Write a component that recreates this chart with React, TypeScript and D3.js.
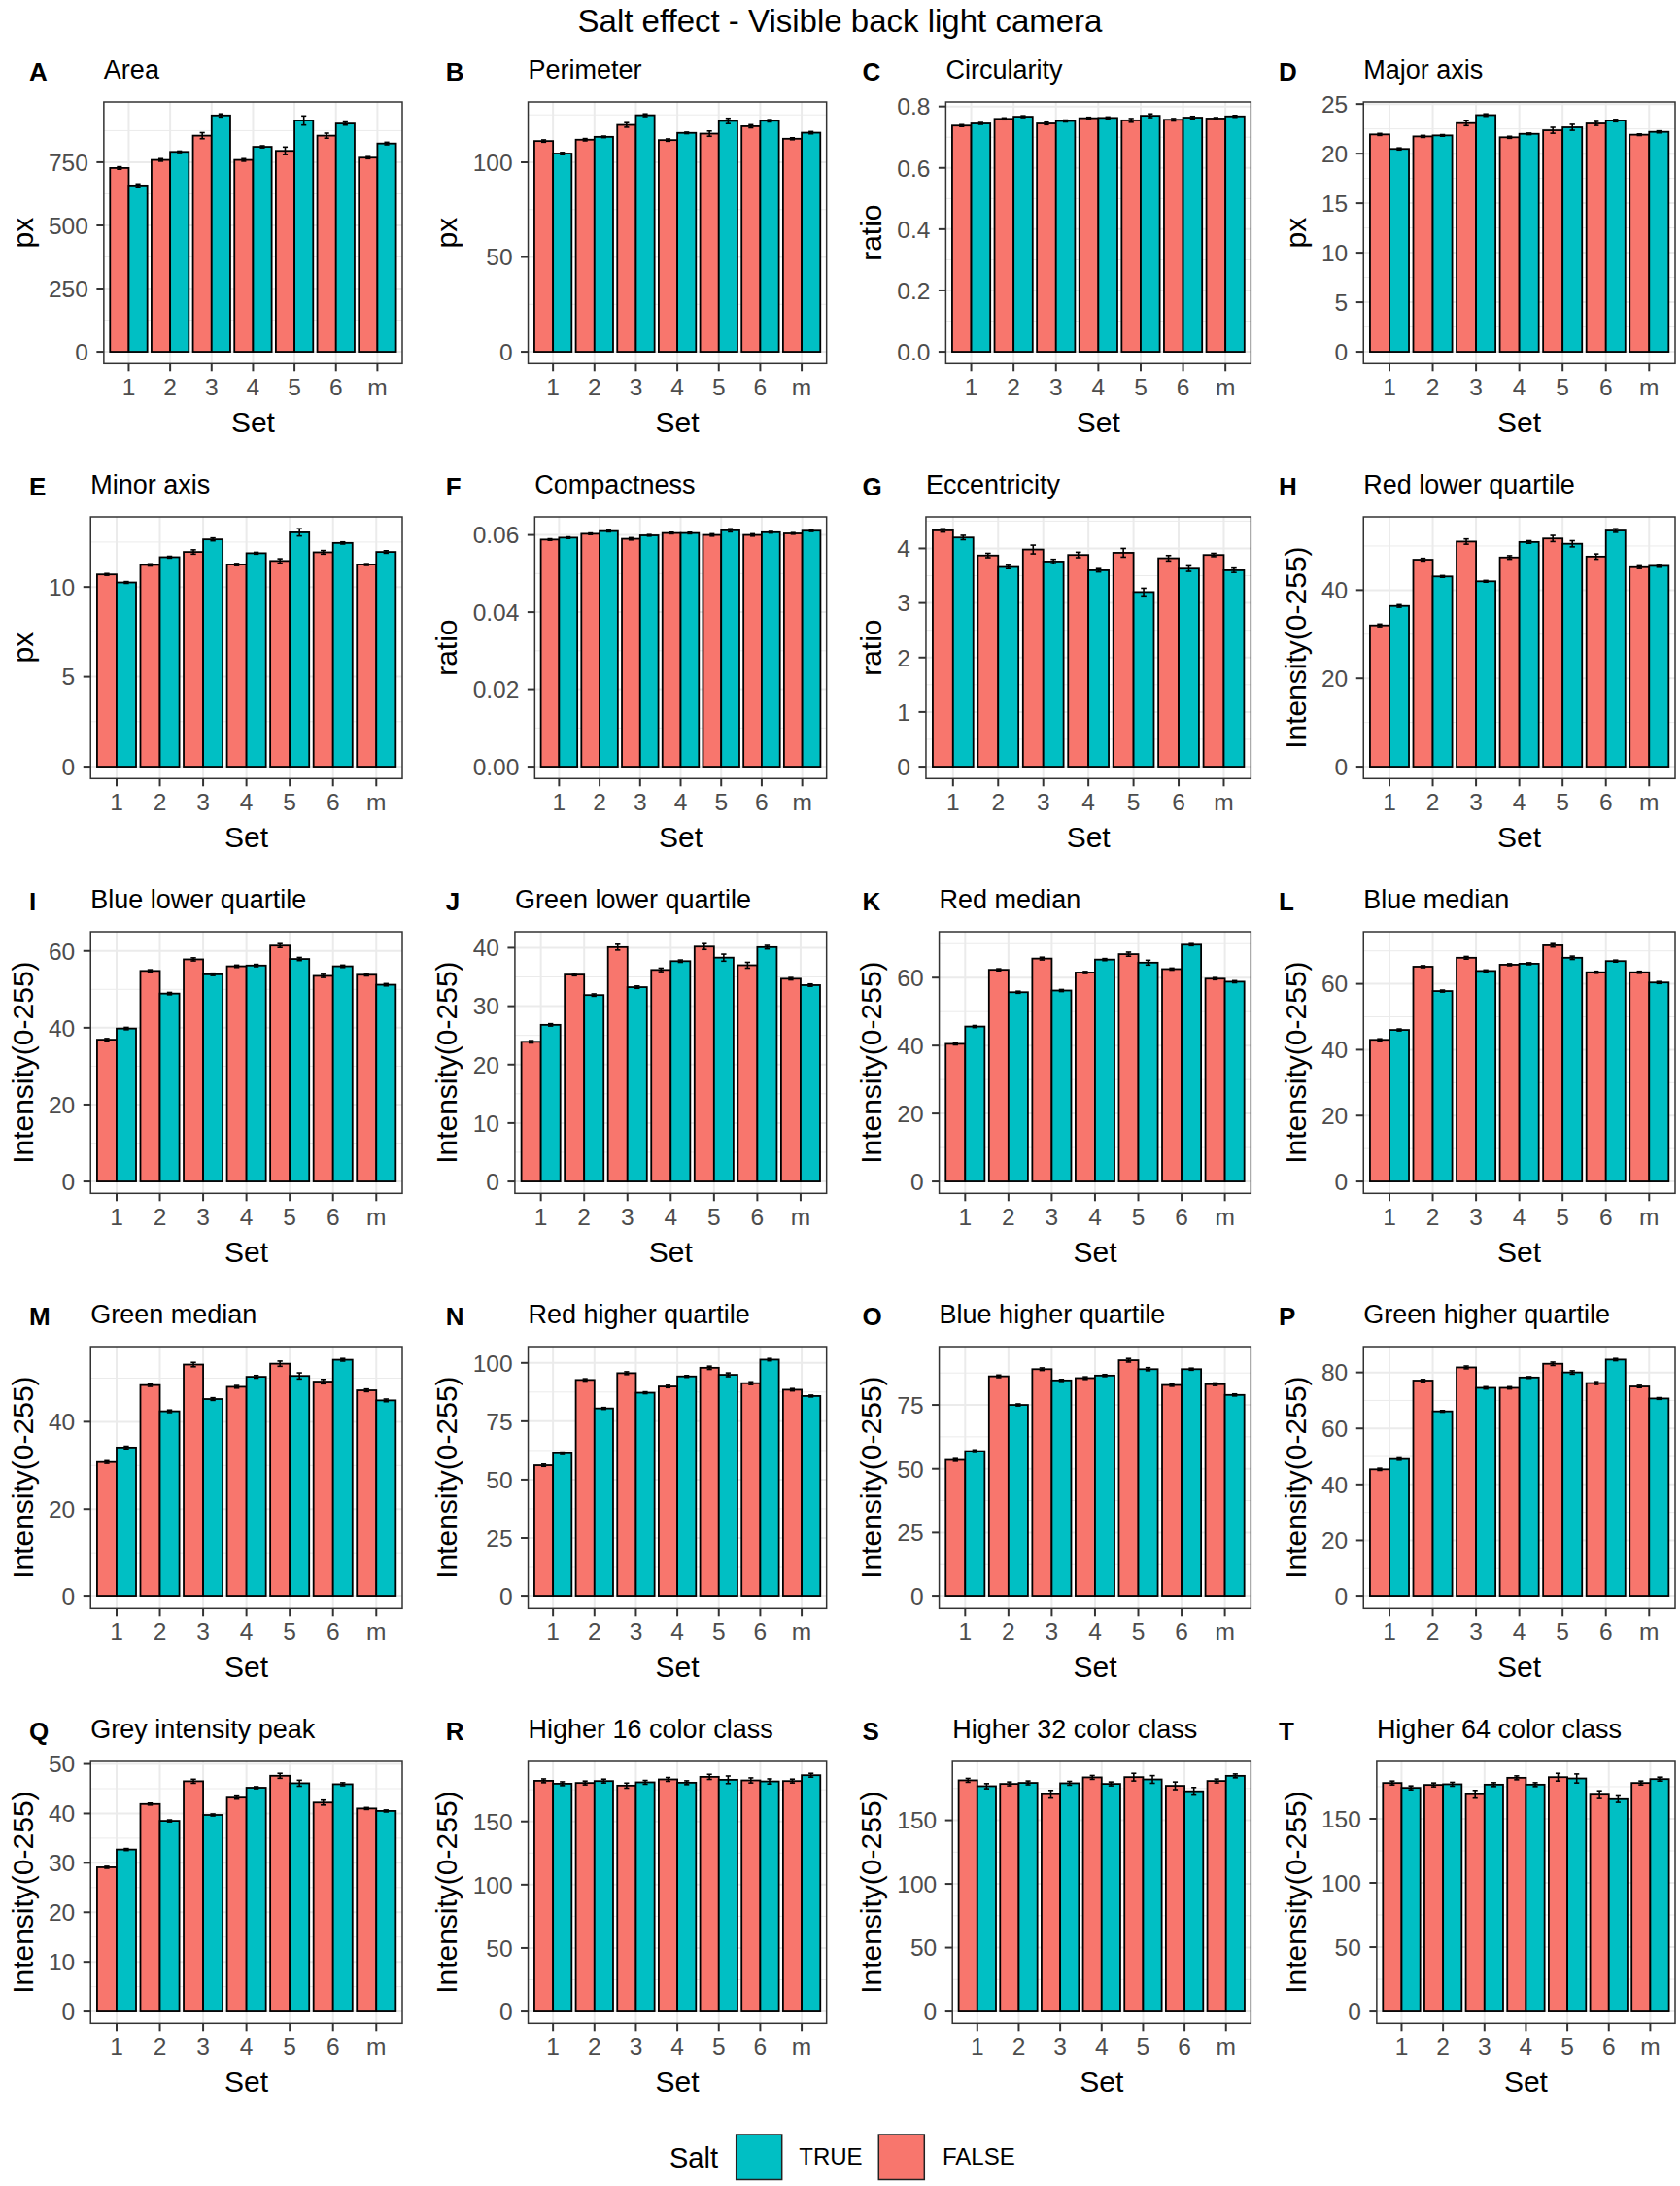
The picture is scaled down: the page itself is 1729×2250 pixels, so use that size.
import React from "react";
import * as d3 from "d3";

const chartTitle = "Salt effect - Visible back light camera";
const sets = ["1", "2", "3", "4", "5", "6", "m"];
const tags = ["A","B","C","D","E","F","G","H","I","J","K","L","M","N","O","P","Q","R","S","T"];
const titles = [
  "Area", "Perimeter", "Circularity", "Major axis",
  "Minor axis", "Compactness", "Eccentricity", "Red lower quartile",
  "Blue lower quartile", "Green lower quartile", "Red median", "Blue median",
  "Green median", "Red higher quartile", "Blue higher quartile", "Green higher quartile",
  "Grey intensity peak", "Higher 16 color class", "Higher 32 color class", "Higher 64 color class",
];
const INT = "Intensity(0-255)";
const yTitles = ["px", "px", "ratio", "px", "px", "ratio", "ratio", INT, INT, INT, INT, INT, INT, INT, INT, INT, INT, INT, INT, INT];
const yTickLabels = [
  ["0", "250", "500", "750"],
  ["0", "50", "100"],
  ["0.0", "0.2", "0.4", "0.6", "0.8"],
  ["0", "5", "10", "15", "20", "25"],
  ["0", "5", "10"],
  ["0.00", "0.02", "0.04", "0.06"],
  ["0", "1", "2", "3", "4"],
  ["0", "20", "40"],
  ["0", "20", "40", "60"],
  ["0", "10", "20", "30", "40"],
  ["0", "20", "40", "60"],
  ["0", "20", "40", "60"],
  ["0", "20", "40"],
  ["0", "25", "50", "75", "100"],
  ["0", "25", "50", "75"],
  ["0", "20", "40", "60", "80"],
  ["0", "10", "20", "30", "40", "50"],
  ["0", "50", "100", "150"],
  ["0", "50", "100", "150"],
  ["0", "50", "100", "150"],
];

// Salt = FALSE means
const falseMean = [
  [727, 759, 855, 759, 795, 855, 768],
  [111.2, 111.9, 119.7, 111.7, 115.1, 119.0, 112.4],
  [0.738, 0.760, 0.745, 0.762, 0.755, 0.757, 0.761],
  [21.94, 21.74, 23.08, 21.65, 22.36, 23.05, 21.91],
  [10.70, 11.23, 11.95, 11.25, 11.45, 11.93, 11.25],
  [0.0588, 0.0603, 0.0590, 0.0605, 0.0600, 0.0600, 0.0604],
  [4.33, 3.87, 3.98, 3.88, 3.92, 3.82, 3.88],
  [32.0, 46.9, 51.0, 47.4, 51.7, 47.6, 45.2],
  [36.9, 54.8, 57.8, 56.0, 61.4, 53.5, 53.8],
  [23.9, 35.4, 40.1, 36.2, 40.2, 37.0, 34.7],
  [40.5, 62.3, 65.6, 61.5, 66.9, 62.5, 59.7],
  [43.0, 65.2, 67.9, 65.8, 71.7, 63.5, 63.5],
  [30.8, 48.4, 53.1, 48.0, 53.3, 49.2, 47.2],
  [56.2, 92.7, 95.6, 89.9, 97.9, 91.3, 88.5],
  [53.5, 86.2, 89.0, 85.5, 92.5, 82.8, 83.1],
  [45.4, 77.1, 81.8, 74.5, 83.1, 76.2, 75.0],
  [29.1, 41.9, 46.5, 43.2, 47.6, 42.2, 41.0],
  [182.1, 180.4, 178.3, 183.2, 185.2, 182.4, 181.9],
  [181.4, 178.6, 170.5, 183.7, 183.9, 177.1, 180.9],
  [177.9, 176.4, 169.1, 181.9, 182.4, 168.8, 177.9],
];
// Salt = TRUE means
const trueMean = [
  [658, 791, 935, 811, 915, 903, 824],
  [104.6, 113.4, 124.8, 115.5, 121.8, 121.9, 115.6],
  [0.745, 0.767, 0.753, 0.763, 0.770, 0.764, 0.768],
  [20.48, 21.84, 23.89, 22.0, 22.66, 23.34, 22.2],
  [10.25, 11.66, 12.65, 11.88, 13.04, 12.45, 11.95],
  [0.0593, 0.0610, 0.0599, 0.0605, 0.0612, 0.0607, 0.0611],
  [4.20, 3.66, 3.76, 3.60, 3.20, 3.63, 3.60],
  [36.4, 43.1, 42.0, 50.9, 50.5, 53.5, 45.5],
  [39.8, 48.9, 53.9, 56.2, 57.9, 56.0, 51.2],
  [26.8, 31.9, 33.25, 37.7, 38.3, 40.1, 33.6],
  [45.6, 55.7, 56.2, 65.3, 64.4, 69.7, 58.8],
  [46.0, 57.8, 63.9, 66.1, 67.9, 66.9, 60.4],
  [34.1, 42.4, 45.2, 50.3, 50.5, 54.2, 44.9],
  [61.3, 80.5, 87.2, 94.2, 94.9, 101.4, 85.8],
  [56.9, 75.0, 84.6, 86.5, 89.0, 89.0, 78.9],
  [49.1, 66.1, 74.5, 78.2, 80.0, 84.6, 70.7],
  [32.7, 38.5, 39.7, 45.2, 46.1, 45.9, 40.5],
  [179.8, 181.9, 180.9, 180.6, 182.9, 181.6, 186.5],
  [176.8, 179.4, 179.1, 178.6, 182.1, 172.8, 184.9],
  [174.1, 176.9, 176.6, 176.6, 181.4, 165.3, 180.9],
];
// standard errors
const falseErr = [
  [5, 5, 12, 5, 15, 10, 4],
  [0.6, 0.6, 1.2, 0.6, 1.4, 0.8, 0.5],
  [0.003, 0.003, 0.004, 0.003, 0.006, 0.004, 0.003],
  [0.1, 0.1, 0.25, 0.1, 0.3, 0.2, 0.08],
  [0.05, 0.06, 0.12, 0.06, 0.12, 0.1, 0.05],
  [0.0002, 0.0002, 0.0003, 0.0002, 0.0003, 0.0003, 0.0002],
  [0.03, 0.04, 0.08, 0.05, 0.08, 0.05, 0.03],
  [0.3, 0.3, 0.6, 0.4, 0.7, 0.6, 0.3],
  [0.3, 0.3, 0.4, 0.3, 0.5, 0.4, 0.3],
  [0.2, 0.2, 0.5, 0.3, 0.5, 0.5, 0.2],
  [0.3, 0.3, 0.4, 0.3, 0.6, 0.3, 0.3],
  [0.3, 0.3, 0.4, 0.3, 0.5, 0.3, 0.3],
  [0.3, 0.3, 0.5, 0.3, 0.6, 0.5, 0.3],
  [0.5, 0.5, 0.6, 0.5, 0.7, 0.6, 0.5],
  [0.5, 0.5, 0.5, 0.5, 0.7, 0.5, 0.5],
  [0.4, 0.4, 0.5, 0.4, 0.6, 0.5, 0.4],
  [0.2, 0.2, 0.4, 0.3, 0.5, 0.5, 0.2],
  [1.5, 1.5, 2, 1.5, 2, 2, 1.5],
  [1.5, 1.5, 3, 1.5, 3, 3, 1.5],
  [1.5, 1.5, 3, 1.5, 3, 3, 1.5],
];
const trueErr = [
  [6, 3, 6, 4, 18, 6, 5],
  [0.6, 0.4, 0.7, 0.4, 1.4, 0.6, 0.6],
  [0.003, 0.003, 0.003, 0.003, 0.006, 0.004, 0.003],
  [0.1, 0.08, 0.12, 0.08, 0.3, 0.12, 0.1],
  [0.05, 0.05, 0.08, 0.05, 0.2, 0.06, 0.07],
  [0.0002, 0.0002, 0.0002, 0.0002, 0.0004, 0.0002, 0.0002],
  [0.04, 0.03, 0.04, 0.03, 0.07, 0.05, 0.04],
  [0.3, 0.2, 0.2, 0.3, 0.7, 0.4, 0.3],
  [0.3, 0.3, 0.3, 0.3, 0.4, 0.3, 0.3],
  [0.2, 0.2, 0.2, 0.2, 0.6, 0.3, 0.2],
  [0.3, 0.3, 0.3, 0.3, 0.7, 0.3, 0.3],
  [0.3, 0.3, 0.3, 0.3, 0.5, 0.3, 0.3],
  [0.3, 0.3, 0.3, 0.3, 0.7, 0.3, 0.3],
  [0.5, 0.4, 0.4, 0.4, 0.8, 0.5, 0.4],
  [0.5, 0.4, 0.4, 0.4, 0.6, 0.4, 0.4],
  [0.4, 0.3, 0.4, 0.3, 0.6, 0.4, 0.3],
  [0.2, 0.2, 0.2, 0.2, 0.6, 0.3, 0.2],
  [1.5, 1.5, 1.5, 1.5, 3, 2, 1.5],
  [2, 1.5, 1.5, 1.5, 3, 3, 1.5],
  [1.5, 1.5, 1.5, 1.5, 3.5, 2.5, 1.5],
];

const legendTitle = "Salt";
const legendLabels = ["TRUE", "FALSE"];

const COL_FALSE = "#F8766D";
const COL_TRUE = "#00BFC4";
const FONT = "'Liberation Sans', Arial, Helvetica, sans-serif";

const W = 1729;
const H = 2250;
const COL_PITCH = 436.67;
const ROW_PITCH = 427;
const TAG_PITCH = 428.7;
const TICK_FS = 24.5;

function textW(s: string, fs: number) {
  let w = 0;
  for (const ch of s) {
    if (ch === ".") w += 0.278;
    else if (ch === "-") w += 0.333;
    else w += 0.556;
  }
  return w * fs;
}

function Panel({ i }: { i: number }) {
  const r = Math.floor(i / 4);
  const c = i % 4;
  const labels = yTickLabels[i];
  const ticks = labels.map((l) => +l);
  const labelW = d3.max(labels, (l) => textW(l, TICK_FS)) as number;
  const right = 414 + COL_PITCH * c;
  const left = 66 + COL_PITCH * c + labelW;
  const top = 105 + ROW_PITCH * r;
  const bottom = 374.3 + ROW_PITCH * r;

  const fm = falseMean[i], tm = trueMean[i], fe = falseErr[i], te = trueErr[i];
  const ymax = d3.max([...fm.map((v, k) => v + fe[k]), ...tm.map((v, k) => v + te[k])]) as number;
  const y = d3.scaleLinear().domain([-0.05 * ymax, 1.05 * ymax]).range([bottom, top]);
  const x = d3.scalePoint<string>().domain(sets).range([left, right]).padding(0.6);
  const u = x.step();
  const bw = 0.45 * u;
  const cap = 0.12 * u;

  const step = ticks[1] - ticks[0];
  const ext = [ticks[0] - step, ...ticks, ticks[ticks.length - 1] + step];
  const [d0, d1] = y.domain();
  const minors: number[] = [];
  for (let k = 0; k < ext.length - 1; k++) {
    const m = (ext[k] + ext[k + 1]) / 2;
    if (m >= d0 && m <= d1) minors.push(m);
  }

  const tagX = 30 + TAG_PITCH * c;
  const yTitleX = 33.5 + COL_PITCH * c;
  const midY = (top + bottom) / 2;

  const bars: { x: number; v: number; e: number; fill: string }[] = [];
  sets.forEach((s, k) => {
    const cx = x(s) as number;
    bars.push({ x: cx - bw, v: fm[k], e: fe[k], fill: COL_FALSE });
    bars.push({ x: cx, v: tm[k], e: te[k], fill: COL_TRUE });
  });

  return (
    <g>
      <text x={tagX} y={top - 21.7} fontSize={26} fontWeight="bold" fontFamily={FONT} fill="#000">{tags[i]}</text>
      <text x={left} y={top - 24} fontSize={27} fontFamily={FONT} fill="#000">{titles[i]}</text>
      <rect x={left} y={top} width={right - left} height={bottom - top} fill="#fff" />
      {minors.map((m) => (
        <line key={"mn" + m} x1={left} x2={right} y1={y(m)} y2={y(m)} stroke="#EBEBEB" strokeWidth={1} />
      ))}
      {ticks.map((t) => (
        <line key={"mj" + t} x1={left} x2={right} y1={y(t)} y2={y(t)} stroke="#EBEBEB" strokeWidth={2} />
      ))}
      {sets.map((s) => (
        <line key={"vx" + s} x1={x(s)} x2={x(s)} y1={top} y2={bottom} stroke="#EBEBEB" strokeWidth={2} />
      ))}
      {bars.map((b, k) => (
        <rect key={"b" + k} x={b.x} y={y(b.v)} width={bw} height={y(0) - y(b.v)} fill={b.fill} stroke="#000" strokeWidth={1.8} />
      ))}
      {bars.map((b, k) => {
        const cx = b.x + bw / 2;
        const y1 = y(b.v - b.e), y2 = y(b.v + b.e);
        return (
          <g key={"e" + k} stroke="#000" strokeWidth={1.6}>
            <line x1={cx} x2={cx} y1={y1} y2={y2} />
            <line x1={cx - cap / 2} x2={cx + cap / 2} y1={y1} y2={y1} />
            <line x1={cx - cap / 2} x2={cx + cap / 2} y1={y2} y2={y2} />
          </g>
        );
      })}
      <rect x={left} y={top} width={right - left} height={bottom - top} fill="none" stroke="#333333" strokeWidth={1.5} />
      {ticks.map((t, k) => (
        <g key={"yt" + t}>
          <line x1={left - 7.5} x2={left} y1={y(t)} y2={y(t)} stroke="#333333" strokeWidth={2} />
          <text x={left - 16} y={y(t)} dy="0.36em" textAnchor="end" fontSize={TICK_FS} fontFamily={FONT} fill="#4D4D4D">{labels[k]}</text>
        </g>
      ))}
      {sets.map((s) => (
        <g key={"xt" + s}>
          <line x1={x(s)} x2={x(s)} y1={bottom} y2={bottom + 8} stroke="#333333" strokeWidth={2} />
          <text x={x(s)} y={bottom + 33} textAnchor="middle" fontSize={TICK_FS} fontFamily={FONT} fill="#4D4D4D">{s}</text>
        </g>
      ))}
      <text x={(left + right) / 2} y={bottom + 70.5} textAnchor="middle" fontSize={30} fontFamily={FONT} fill="#000">Set</text>
      <text transform={`translate(${yTitleX},${midY}) rotate(-90)`} textAnchor="middle" fontSize={30} fontFamily={FONT} fill="#000">{yTitles[i]}</text>
    </g>
  );
}

export default function App() {
  const legendFills = [COL_TRUE, COL_FALSE];
  const boxX = [757.7, 904.3];
  const labX = [822.3, 970];
  return (
    <svg width={W} height={H} viewBox={`0 0 ${W} ${H}`} style={{ position: "absolute", left: 0, top: 0, background: "#fff" }} xmlns="http://www.w3.org/2000/svg">
      <rect x={0} y={0} width={W} height={H} fill="#fff" />
      <text x={W / 2} y={33} textAnchor="middle" fontSize={33} fontFamily={FONT} fill="#000">{chartTitle}</text>
      {titles.map((_, i) => (
        <Panel key={i} i={i} />
      ))}
      <g>
        <text x={689} y={2231} fontSize={29} fontFamily={FONT} fill="#000">{legendTitle}</text>
        {legendLabels.map((l, k) => (
          <g key={l}>
            <rect x={boxX[k]} y={2197} width={47} height={46.5} fill={legendFills[k]} stroke="#222" strokeWidth={1.5} />
            <text x={labX[k]} y={2228.3} fontSize={24} fontFamily={FONT} fill="#000">{l}</text>
          </g>
        ))}
      </g>
    </svg>
  );
}
